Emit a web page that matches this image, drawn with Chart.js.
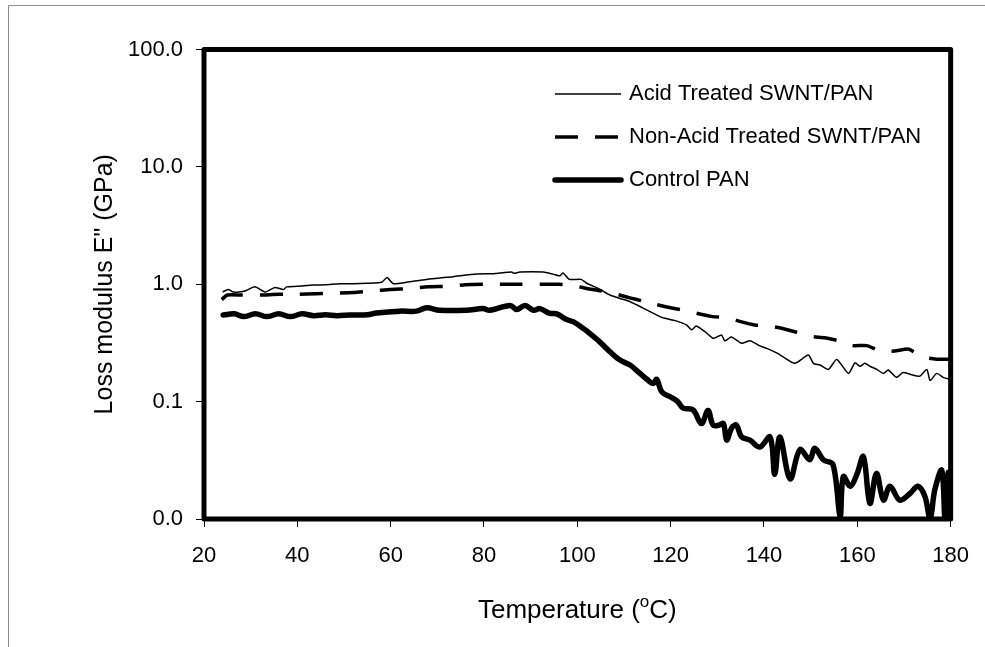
<!DOCTYPE html>
<html>
<head>
<meta charset="utf-8">
<script src="https://cdn.jsdelivr.net/npm/chart.js@4/dist/chart.umd.min.js"></script>
<style>
  body { margin: 0; background: #fff; }
  #wrap { position: relative; width: 985px; height: 647px; }
</style>
</head>
<body>
<div id="wrap"><canvas id="chart-loss" width="985" height="647"></canvas></div>
<script>
// Loss modulus vs temperature (log scale)

const tempAcid = [24, 25.2, 26.3, 28.6, 30.9, 33.1, 35.2, 37, 37.7, 40, 43.4, 46, 49.1, 52, 55, 58.1, 59.2, 60.6, 63.4, 67.7,
  73.4, 78.4, 82, 85.9, 86.4, 87.7, 92.7, 94.8, 96.3, 96.9, 98.3, 100.8, 102, 104.5, 107, 109, 111.3, 114, 117.7, 119,
  121, 123.4, 124.5, 125.5, 127.5, 129.1, 130.9, 131.6, 133, 135.2, 137, 139, 140.6, 142.7, 144.1, 146.6, 149.5, 150.6, 152, 153.8,
  155.6, 158.1, 159.5, 160.6, 161.6, 162.7, 164, 165.6, 166.6, 168.4, 169.8, 171.5, 173.4, 174.9, 175.6, 177, 178.5, 180];
const acidValues = [0.86, 0.90, 0.86, 0.87, 0.95, 0.86, 0.94, 0.90, 0.95, 0.96, 0.985, 0.99, 1.01, 1.01, 1.02, 1.04, 1.14, 1.01, 1.04, 1.10,
  1.16, 1.22, 1.23, 1.27, 1.24, 1.27, 1.27, 1.22, 1.18, 1.25, 1.10, 1.10, 1.02, 0.92, 0.81, 0.76, 0.71, 0.63, 0.53, 0.51,
  0.49, 0.45, 0.41, 0.44, 0.39, 0.346, 0.37, 0.33, 0.355, 0.314, 0.33, 0.30, 0.284, 0.26, 0.241, 0.212, 0.249, 0.212, 0.205, 0.188,
  0.229, 0.174, 0.214, 0.20, 0.212, 0.20, 0.19, 0.174, 0.186, 0.161, 0.177, 0.17, 0.165, 0.188, 0.151, 0.174, 0.16, 0.155];

const tempNonAcid = [23.8, 25, 28, 32, 36, 40, 44, 48, 52, 56, 60, 64, 68, 72, 76, 80, 84, 88, 92, 96, 99, 102, 105, 108,
  111, 114, 117, 120, 123, 126, 129, 132, 135, 138, 141, 144, 147, 150, 153, 156, 159, 162, 165, 168, 171, 174, 177, 180];
const nonAcidValues = [0.74, 0.81, 0.81, 0.81, 0.82, 0.82, 0.83, 0.84, 0.85, 0.88, 0.90, 0.92, 0.95, 0.96, 0.99, 1.0, 1.0, 1.0, 1.0, 1.0, 0.98, 0.92, 0.88, 0.83,
  0.77, 0.72, 0.67, 0.63, 0.60, 0.56, 0.53, 0.52, 0.48, 0.45, 0.44, 0.42, 0.39, 0.36, 0.35, 0.33, 0.30, 0.30, 0.27, 0.27, 0.28, 0.24, 0.23, 0.23];

const tempControl = [24.1, 26.5, 28.5, 31, 33.5, 36, 38.5, 41, 43.5, 46, 48.5, 51.3, 55, 57, 62, 65.5, 67.7, 70.5, 76.2, 79.8,
  81.2, 85.6, 87, 88.8, 90.6, 92, 94.1, 95.6, 97.7, 99.1, 101.3, 102, 104.9, 107, 109.1, 111.3, 113, 114.9, 116.3, 117,
  118.1, 119.9, 121.5, 122.7, 124.8, 126.6, 128, 129.1, 130.3, 131.3, 132, 133.1, 134.1, 135.2, 137, 139.1, 141.3, 142.3, 143.4, 145.6,
  147.7, 149.8, 150.9, 152.7, 154.8, 156.3, 157, 158.5, 159.9, 161.3, 162.7, 164.1, 165.6, 167, 169.1, 171.3, 173, 174.5, 175.6, 176.6,
  178.1, 178.8, 179.5, 180];
const controlValues = [0.547, 0.56, 0.53, 0.56, 0.53, 0.56, 0.53, 0.56, 0.54, 0.55, 0.54, 0.547, 0.55, 0.57, 0.59, 0.59, 0.63, 0.60, 0.60, 0.62,
  0.60, 0.66, 0.61, 0.66, 0.60, 0.62, 0.565, 0.56, 0.50, 0.48, 0.42, 0.40, 0.32, 0.266, 0.226, 0.205, 0.18, 0.155, 0.143, 0.155,
  0.121, 0.11, 0.10, 0.088, 0.085, 0.065, 0.084, 0.063, 0.063, 0.065, 0.047, 0.06, 0.063, 0.050, 0.047, 0.041, 0.050, 0.024, 0.050, 0.022,
  0.039, 0.032, 0.040, 0.032, 0.029, 0.0105, 0.023, 0.019, 0.024, 0.034, 0.0136, 0.0245, 0.0145, 0.019, 0.0145, 0.0165, 0.019, 0.0155, 0.0100, 0.0177,
  0.026, 0.0100, 0.025, 0.0100];

const seriesNames = ['Acid Treated SWNT/PAN', 'Non-Acid Treated SWNT/PAN', 'Control PAN'];
const xTicks = [20, 40, 60, 80, 100, 120, 140, 160, 180];
const yTicks = [0.01, 0.1, 1, 10, 100];
const yTickLabels = ['0.0', '0.1', '1.0', '10.0', '100.0'];

const FONT = '"Liberation Sans", Arial, sans-serif';
const toPoints = (xs, ys) => xs.map((x, i) => ({ x: x, y: ys[i] }));

// thin page border, thick plot frame, legend, x title with superscript
const decorPlugin = {
  id: 'decor',
  beforeDraw(chart) {
    const ctx = chart.ctx;
    ctx.save();
    ctx.strokeStyle = '#8c8c8c';
    ctx.lineWidth = 1;
    ctx.beginPath();
    ctx.moveTo(8.5, 647);
    ctx.lineTo(8.5, 5.5);
    ctx.lineTo(985, 5.5);
    ctx.stroke();
    ctx.restore();
  },
  afterDatasetsDraw(chart) {
    const ctx = chart.ctx;
    const a = chart.chartArea;
    ctx.save();
    ctx.strokeStyle = '#000';
    ctx.lineWidth = 5;
    ctx.lineJoin = 'round';
    ctx.strokeRect(a.left, a.top, a.right - a.left, a.bottom - a.top);

    // legend
    const rows = [94, 137, 180];
    ctx.font = '22px ' + FONT;
    ctx.fillStyle = '#000';
    ctx.textBaseline = 'middle';
    chart.data.datasets.forEach((ds, i) => {
      const y = rows[i];
      ctx.beginPath();
      ctx.lineWidth = ds.borderWidth;
      ctx.lineCap = i === 2 ? 'round' : 'butt';
      ctx.setLineDash(ds.borderDash || []);
      ctx.moveTo(555, y);
      ctx.lineTo(621, y);
      ctx.stroke();
      ctx.setLineDash([]);
      ctx.fillText(ds.label, 629, y);
    });

    // x axis title: Temperature (°C) with raised small o
    const big = '26px ' + FONT, small = '17px ' + FONT;
    const p1 = 'Temperature (', p2 = 'o', p3 = 'C)';
    ctx.font = big;
    const w1 = ctx.measureText(p1).width, w3 = ctx.measureText(p3).width;
    ctx.font = small;
    const w2 = ctx.measureText(p2).width;
    let x = (a.left + a.right) / 2 - (w1 + w2 + w3) / 2;
    const base = 618;
    ctx.textBaseline = 'alphabetic';
    ctx.font = big; ctx.fillText(p1, x, base); x += w1;
    ctx.font = small; ctx.fillText(p2, x, base - 11); x += w2;
    ctx.font = big; ctx.fillText(p3, x, base);
    ctx.restore();
  }
};

new Chart(document.getElementById('chart-loss'), {
  type: 'line',
  data: {
    datasets: [
      {
        label: seriesNames[0],
        data: toPoints(tempAcid, acidValues),
        borderColor: '#000',
        borderWidth: 1.5,
        tension: 0.2
      },
      {
        label: seriesNames[1],
        data: toPoints(tempNonAcid, nonAcidValues),
        borderColor: '#000',
        borderWidth: 3.5,
        borderDash: [23, 17],
        tension: 0.2
      },
      {
        label: seriesNames[2],
        data: toPoints(tempControl, controlValues),
        borderColor: '#000',
        borderWidth: 5.5,
        borderJoinStyle: 'round',
        borderCapStyle: 'round',
        tension: 0.35
      }
    ]
  },
  options: {
    responsive: false,
    animation: false,
    devicePixelRatio: 1,
    layout: { padding: { left: 0, top: 49.5, right: 34, bottom: 0 } },
    elements: { point: { radius: 0 } },
    plugins: { legend: { display: false }, tooltip: { enabled: false } },
    scales: {
      x: {
        type: 'linear',
        min: 20,
        max: 180,
        afterFit: (s) => { s.height = 128; },
        afterBuildTicks: (s) => { s.ticks = xTicks.map(v => ({ value: v })); },
        grid: { drawOnChartArea: false, drawTicks: true, tickLength: 8, color: '#000', lineWidth: 1 },
        border: { display: false },
        ticks: { color: '#000', font: { family: FONT, size: 22 }, padding: 16, maxRotation: 0, autoSkip: false }
      },
      y: {
        type: 'logarithmic',
        min: 0.01,
        max: 100,
        afterFit: (s) => { s.width = 204; },
        afterBuildTicks: (s) => { s.ticks = yTicks.map(v => ({ value: v })); },
        grid: { drawOnChartArea: false, drawTicks: true, tickLength: 8, color: '#000', lineWidth: 1 },
        border: { display: false },
        ticks: {
          color: '#000',
          font: { family: FONT, size: 22 },
          padding: 13,
          autoSkip: false,
          callback: (v, i) => yTickLabels[i]
        },
        title: {
          display: true,
          text: 'Loss modulus E" (GPa)',
          color: '#000',
          font: { family: FONT, size: 25 },
          padding: { top: 90, bottom: 0 }
        }
      }
    }
  },
  plugins: [decorPlugin]
});
</script>
</body>
</html>
